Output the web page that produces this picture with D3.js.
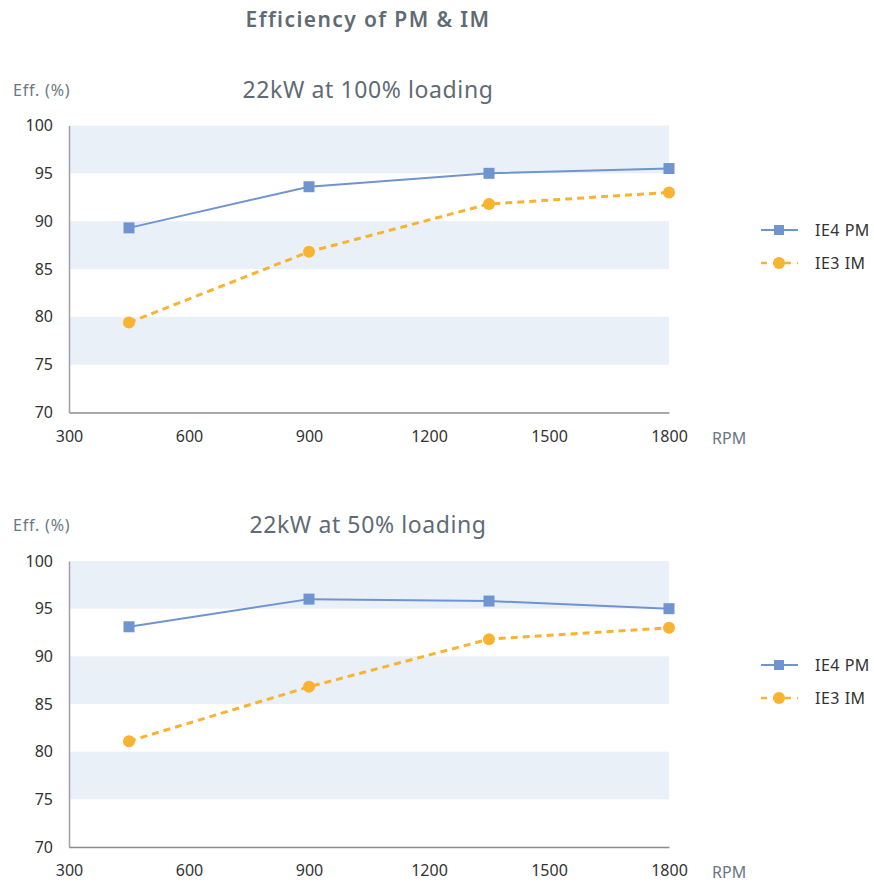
<!DOCTYPE html>
<html>
<head>
<meta charset="utf-8">
<script src="https://cdn.jsdelivr.net/npm/d3@7"></script>
<style>
  html, body { margin: 0; padding: 0; background: #fff; }
  svg { display: block; font-family: "Noto Sans", "Open Sans", sans-serif; }
</style>
</head>
<body>
<svg id="chart" width="874" height="885"></svg>
<script>
// Motor speed (RPM) at which efficiency was measured
const speeds = [450, 900, 1350, 1800];

// Efficiency (%) at 100% load
const pmFull = [89.3, 93.6, 95.0, 95.5];
const imFull = [79.4, 86.8, 91.8, 93.0];

// Efficiency (%) at 50% load
const pmHalf = [93.1, 96.0, 95.8, 95.0];
const imHalf = [81.1, 86.8, 91.8, 93.0];

const xTicks = [300, 600, 900, 1200, 1500, 1800];
const yTicks = [70, 75, 80, 85, 90, 95, 100];
const bandRanges = [[95, 100], [85, 90], [75, 80]];

const seriesNames = ["IE4 PM", "IE3 IM"];
const panelTitles = ["22kW at 100% loading", "22kW at 50% loading"];

const BLUE = "#7094d0";
const ORANGE = "#f8b330";

const svg = d3.select("#chart");

svg.append("text")
  .attr("x", 368).attr("y", 27)
  .attr("text-anchor", "middle")
  .attr("font-size", 21).attr("font-weight", 600)
  .attr("letter-spacing", 1.4)
  .attr("fill", "#5f6b74")
  .text("Efficiency of PM & IM");

const panels = [
  { title: panelTitles[0], pm: pmFull, im: imFull, top: 125.5, bottom: 412.5 },
  { title: panelTitles[1], pm: pmHalf, im: imHalf, top: 561, bottom: 847 }
];

const left = 69, right = 669;

panels.forEach(p => {
  const x = d3.scaleLinear().domain([300, 1800]).range([left, right]);
  const y = d3.scaleLinear().domain([70, 100]).range([p.bottom, p.top]);
  const g = svg.append("g");

  // alternating horizontal bands
  g.selectAll("rect.band").data(bandRanges).join("rect")
    .attr("class", "band")
    .attr("x", left).attr("width", right - left)
    .attr("y", d => y(d[1])).attr("height", d => y(d[0]) - y(d[1]))
    .attr("fill", "#eaf0f8");

  // y axis
  const yAxis = g.append("g").attr("transform", `translate(${left},0)`)
    .call(d3.axisLeft(y).tickValues(yTicks).tickSize(0).tickPadding(16));
  yAxis.select(".domain").attr("stroke", "#a0a0a0").attr("stroke-width", 1.5);
  yAxis.selectAll("text").attr("font-size", 16).attr("fill", "#333")
    .attr("font-family", "'Noto Sans', sans-serif");

  // x axis
  const xAxis = g.append("g").attr("transform", `translate(0,${p.bottom})`)
    .call(d3.axisBottom(x).tickValues(xTicks).tickFormat(d3.format("d"))
      .tickSize(0).tickPadding(18));
  xAxis.select(".domain").attr("stroke", "#8c8c8c").attr("stroke-width", 1.5);
  xAxis.selectAll("text").attr("font-size", 16).attr("fill", "#333")
    .attr("font-family", "'Noto Sans', sans-serif");

  // axis captions and panel title
  g.append("text").attr("x", 13).attr("y", p.top - 30)
    .attr("font-size", 16).attr("letter-spacing", 0.8)
    .attr("fill", "#6b7780").text("Eff. (%)");
  g.append("text").attr("x", 712).attr("y", p.bottom + 31)
    .attr("font-size", 16).attr("fill", "#6b7780").text("RPM");
  g.append("text").attr("x", 368).attr("y", p.top - 28)
    .attr("text-anchor", "middle")
    .attr("font-size", 23).attr("letter-spacing", 0.6)
    .attr("fill", "#5f6b74").text(p.title);

  // IE3 IM: dashed line with circles
  const imLine = d3.line().x((d, i) => x(speeds[i])).y(d => y(d));
  g.append("path").datum(p.im)
    .attr("d", imLine).attr("fill", "none")
    .attr("stroke", ORANGE).attr("stroke-width", 3)
    .attr("stroke-dasharray", "7,5");
  g.selectAll("circle.im").data(p.im).join("circle")
    .attr("class", "im")
    .attr("cx", (d, i) => x(speeds[i])).attr("cy", d => y(d))
    .attr("r", 6).attr("fill", ORANGE);

  // IE4 PM: solid line with squares
  const pmLine = d3.line().x((d, i) => x(speeds[i])).y(d => y(d));
  g.append("path").datum(p.pm)
    .attr("d", pmLine).attr("fill", "none")
    .attr("stroke", BLUE).attr("stroke-width", 2);
  g.selectAll("rect.pm").data(p.pm).join("rect")
    .attr("class", "pm")
    .attr("x", (d, i) => x(speeds[i]) - 5.5).attr("y", d => y(d) - 5.5)
    .attr("width", 11).attr("height", 11).attr("fill", BLUE);

  // legend
  const legendMid = (p.top + p.bottom) / 2;
  const rows = [
    { name: seriesNames[0], color: BLUE, dash: null, shape: "square", dy: legendMid - 39 },
    { name: seriesNames[1], color: ORANGE, dash: "6,6", shape: "circle", dy: legendMid - 6 }
  ];
  rows.forEach(r => {
    g.append("line").attr("x1", 761).attr("x2", 798)
      .attr("y1", r.dy).attr("y2", r.dy)
      .attr("stroke", r.color).attr("stroke-width", r.shape === "circle" ? 2.5 : 2)
      .attr("stroke-dasharray", r.dash);
    if (r.shape === "square") {
      g.append("rect").attr("x", 779 - 5).attr("y", r.dy - 5)
        .attr("width", 10).attr("height", 10).attr("fill", r.color);
    } else {
      g.append("circle").attr("cx", 779).attr("cy", r.dy).attr("r", 6)
        .attr("fill", r.color);
    }
    g.append("text").attr("x", 815).attr("y", r.dy + 5.5)
      .attr("font-size", 16).attr("letter-spacing", 0.5)
      .attr("fill", "#333").text(r.name);
  });
});
</script>
</body>
</html>
